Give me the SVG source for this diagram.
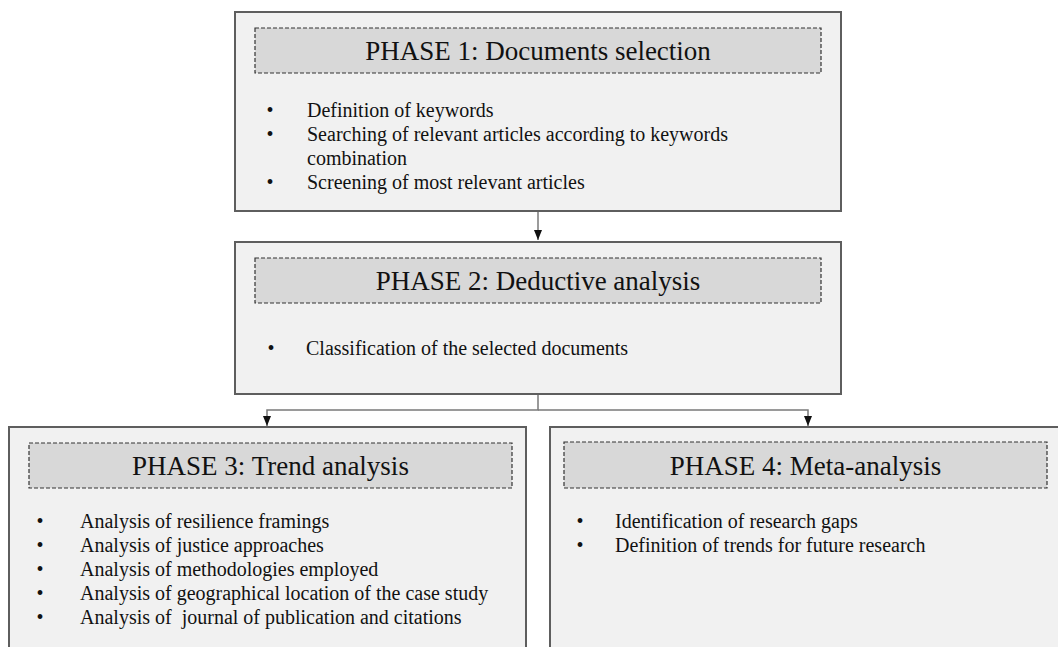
<svg xmlns="http://www.w3.org/2000/svg" width="1058" height="647" viewBox="0 0 1058 647">
<style>
.box{fill:#f1f1f1;stroke:#5e5e5e;stroke-width:2}
.hdr{fill:#d8d8d8;stroke:#333;stroke-width:1.2;stroke-dasharray:4 2}
.title{font-family:'Liberation Serif',serif;font-size:27px;fill:#111;text-anchor:middle}
.t{font-family:'Liberation Serif',serif;font-size:20px;fill:#111}
.b{font-family:'Liberation Serif',serif;font-size:20px;fill:#111;text-anchor:middle}
.con{fill:none;stroke:#7a7a7a;stroke-width:1.5}
</style>
<defs>
<marker id="arr" viewBox="0 0 10 8" refX="10" refY="4" markerWidth="10" markerHeight="8" markerUnits="userSpaceOnUse" orient="auto">
<path d="M0,0 L10,4 L0,8 Z" fill="#111"/>
</marker>
</defs>
<rect width="1058" height="647" fill="#ffffff"/>
<g id="connectors">
<path class="con" d="M538,211 V240" marker-end="url(#arr)"/>
<path class="con" d="M538,394 V410 H267 V426" marker-end="url(#arr)"/>
<path class="con" d="M538,410 H808 V426" marker-end="url(#arr)"/>
</g>
<g id="phase1" font-family="Liberation Serif">
<rect class="box" x="235" y="12" width="606" height="199"/>
<rect class="hdr" x="255" y="28" width="566" height="45"/>
<text class="title" x="538" y="60" font-family="Liberation Serif">PHASE 1: Documents selection</text>
<text class="b" x="270" y="117" font-family="Liberation Serif">•</text><text class="t" x="307" y="117" font-family="Liberation Serif">Definition of keywords</text>
<text class="b" x="270" y="141" font-family="Liberation Serif">•</text><text class="t" x="307" y="141" font-family="Liberation Serif">Searching of relevant articles according to keywords</text>
<text class="t" x="307" y="165" font-family="Liberation Serif">combination</text>
<text class="b" x="270" y="189" font-family="Liberation Serif">•</text><text class="t" x="307" y="189" font-family="Liberation Serif">Screening of most relevant articles</text>
</g>
<g id="phase2" font-family="Liberation Serif">
<rect class="box" x="235" y="242" width="606" height="152"/>
<rect class="hdr" x="255" y="258" width="566" height="45"/>
<text class="title" x="538" y="290" font-family="Liberation Serif">PHASE 2: Deductive analysis</text>
<text class="b" x="271" y="355" font-family="Liberation Serif">•</text><text class="t" x="306" y="355" font-family="Liberation Serif">Classification of the selected documents</text>
</g>
<g id="phase3" font-family="Liberation Serif">
<rect class="box" x="9" y="427" width="517" height="240"/>
<rect class="hdr" x="29" y="443" width="483" height="45"/>
<text class="title" x="270.5" y="475" font-family="Liberation Serif">PHASE 3: Trend analysis</text>
<text class="b" x="40" y="528" font-family="Liberation Serif">•</text><text class="t" x="80" y="528" font-family="Liberation Serif">Analysis of resilience framings</text>
<text class="b" x="40" y="552" font-family="Liberation Serif">•</text><text class="t" x="80" y="552" font-family="Liberation Serif">Analysis of justice approaches</text>
<text class="b" x="40" y="576" font-family="Liberation Serif">•</text><text class="t" x="80" y="576" font-family="Liberation Serif">Analysis of methodologies employed</text>
<text class="b" x="40" y="600" font-family="Liberation Serif">•</text><text class="t" x="80" y="600" font-family="Liberation Serif">Analysis of geographical location of the case study</text>
<text class="b" x="40" y="624" font-family="Liberation Serif">•</text><text class="t" x="80" y="624" font-family="Liberation Serif" xml:space="preserve">Analysis of  journal of publication and citations</text>
</g>
<g id="phase4" font-family="Liberation Serif">
<rect class="box" x="550" y="427" width="520" height="240"/>
<rect class="hdr" x="564" y="442" width="483" height="46"/>
<text class="title" x="805.5" y="475" font-family="Liberation Serif">PHASE 4: Meta-analysis</text>
<text class="b" x="580" y="528" font-family="Liberation Serif">•</text><text class="t" x="615" y="528" font-family="Liberation Serif">Identification of research gaps</text>
<text class="b" x="580" y="552" font-family="Liberation Serif">•</text><text class="t" x="615" y="552" font-family="Liberation Serif">Definition of trends for future research</text>
</g>
</svg>
